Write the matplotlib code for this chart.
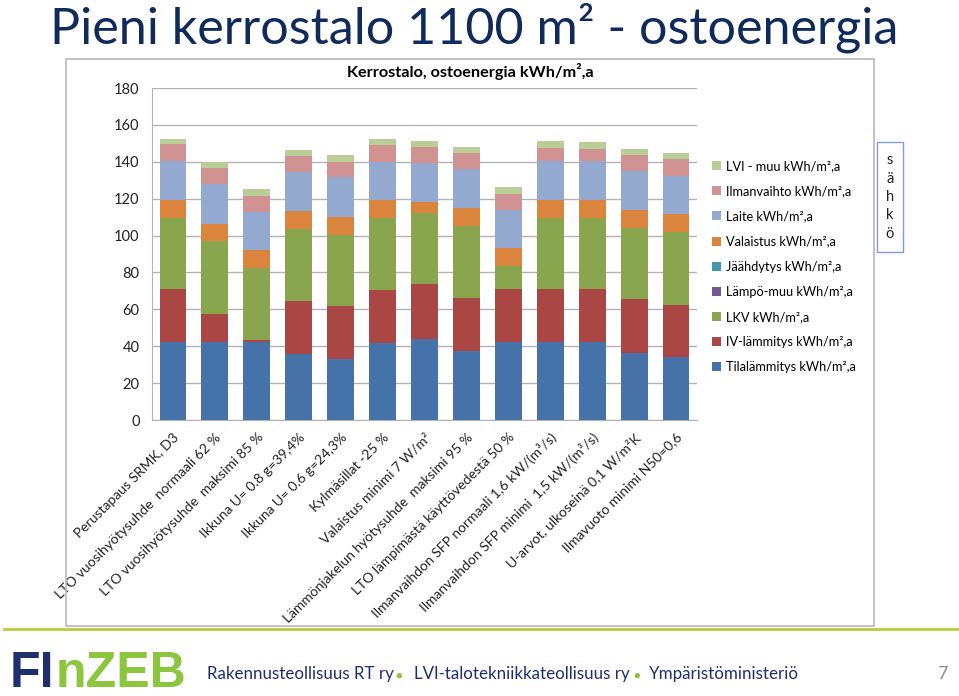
import numpy as np
import matplotlib
matplotlib.use("Agg")
from matplotlib import pyplot as plt
from matplotlib.patches import Rectangle
from matplotlib.lines import Line2D

# --- data (kWh/m2,a) ---
categories = [
    "Perustapaus SRMK, D3",
    "LTO vuosihyötysuhde  normaali 62 %",
    "LTO vuosihyötysuhde  maksimi 85 %",
    "Ikkuna U= 0.8 g=39,4%",
    "Ikkuna U= 0.6 g=24,3%",
    "Kylmäsillat -25 %",
    "Valaistus minimi 7 W/m²",
    "Lämmönjakelun hyötysuhde  maksimi 95 %",
    "LTO lämpimästä käyttövedestä 50 %",
    "Ilmanvaihdon SFP normaali 1,6 kW/(m³/s)",
    "Ilmanvaihdon SFP minimi  1,5 kW/(m³/s)",
    "U-arvot, ulkoseinä 0,1 W/m²K",
    "Ilmavuoto minimi N50=0,6",
]
tilalammitys = [42.2, 42.2, 42.2, 35.9, 33.0, 41.6, 44.1, 37.3, 42.2, 42.2, 42.2, 36.4, 34.0]
iv_lammitys  = [28.6, 15.5, 1.2, 28.4, 28.8, 28.9, 29.4, 29.0, 28.6, 28.6, 28.6, 29.0, 28.5]
lkv          = [38.9, 39.1, 38.8, 39.1, 38.6, 39.0, 38.9, 38.7, 12.8, 38.9, 38.9, 38.9, 39.5]
lampo_muu    = [0] * 13
jaahdytys    = [0] * 13
valaistus    = [9.8, 9.5, 9.7, 9.8, 9.9, 9.8, 5.8, 10.0, 9.7, 9.8, 9.8, 9.7, 9.5]
laite        = [20.9, 21.8, 21.1, 21.0, 21.6, 20.7, 21.4, 20.9, 20.7, 20.9, 20.9, 21.0, 20.8]
ilmanvaihto  = [9.0, 8.3, 8.6, 8.7, 8.1, 9.0, 8.5, 8.8, 8.7, 7.0, 6.3, 8.8, 9.0]
lvi_muu      = [3.2, 3.4, 3.6, 3.4, 3.8, 3.1, 3.4, 3.2, 3.4, 3.6, 3.8, 3.2, 3.2]

series = [
    ("Tilalämmitys kWh/m²,a", tilalammitys, "#4672AA"),
    ("IV-lämmitys kWh/m²,a", iv_lammitys, "#AA4643"),
    ("LKV kWh/m²,a", lkv, "#89A54E"),
    ("Lämpö-muu kWh/m²,a", lampo_muu, "#71588F"),
    ("Jäähdytys kWh/m²,a", jaahdytys, "#4198AF"),
    ("Valaistus kWh/m²,a", valaistus, "#DB843D"),
    ("Laite kWh/m²,a", laite, "#93A9CF"),
    ("Ilmanvaihto kWh/m²,a", ilmanvaihto, "#D19392"),
    ("LVI - muu kWh/m²,a", lvi_muu, "#B9CD96"),
]

W, H = 959, 696
plt.rcParams['font.family'] = ['Lato', 'DejaVu Sans']

fig = plt.figure(figsize=(W / 100, H / 100), dpi=100)


def fx(x):
    return x / W


def fy(y):
    return 1 - y / H


# chart frame
fig.patches.append(Rectangle((fx(66), fy(626)), fx(874) - fx(66), fy(59) - fy(626),
                             transform=fig.transFigure, fill=False,
                             edgecolor="#bdbdbd", lw=1.3))
# green separator line
fig.add_artist(Line2D([fx(4), fx(958)], [fy(629), fy(629)], transform=fig.transFigure,
                      color="#b5cf3a", lw=2))

ax = fig.add_axes([fx(152), fy(420), fx(697) - fx(152), fy(88) - fy(420)])
x = np.arange(len(categories))
bottom = np.zeros(len(categories))
handles = []
for name, vals, col in series:
    b = ax.bar(x, vals, 0.64, bottom=bottom, color=col, label=name, zorder=3)
    bottom += np.array(vals)
    handles.append(b)

ax.set_xlim(-0.5, len(categories) - 0.5)
ax.set_ylim(0, 180)
ax.set_yticks(range(0, 181, 20))
ax.yaxis.grid(True, color="#b3b3b3", lw=1, zorder=0)
for s in ["top", "right"]:
    ax.spines[s].set_visible(False)
ax.spines["left"].set_color("#b3b3b3")
ax.spines["bottom"].set_color("#b3b3b3")
ax.tick_params(axis="both", length=0, labelsize=10.5, colors="#222222")
ax.tick_params(axis="y", pad=9)
ax.set_xticks(x)
ax.set_xticklabels(categories, rotation=45, ha="right", va="top",
                   rotation_mode="anchor", fontsize=10)
ax.tick_params(axis="x", pad=8)

ax.set_title("Kerrostalo, ostoenergia kWh/m²,a", fontsize=11.7, fontweight="bold",
             x=(470 - 152) / (697 - 152), y=1.0, pad=8)

leg = fig.legend(handles[::-1], [s[0] for s in series][::-1],
                 loc="upper left", bbox_to_anchor=(fx(707), fy(155)),
                 frameon=False, fontsize=9.2, handlelength=0.7, handleheight=0.7,
                 handletextpad=0.4, labelspacing=1.03, borderaxespad=0)

# "sähkö" box
fig.patches.append(Rectangle((fx(877), fy(252)), fx(903) - fx(877), fy(142) - fy(252),
                             transform=fig.transFigure, fill=False,
                             edgecolor="#7f9fcf", lw=1))
fig.text(fx(890), fy(197), "s\nä\nh\nk\nö", ha="center", va="center",
         fontsize=10.5, linespacing=1.4, color="#222222")

# main title
fig.text(fx(50), fy(28), "Pieni kerrostalo 1100 m² - ostoenergia", ha="left",
         va="center", fontsize=36.2, color="#0f2b5b")

# footer
fig.text(fx(10), fy(674), "FI", fontfamily="Liberation Sans", fontweight="bold",
         fontsize=36, color="#1f2f6e", va="center", ha="left")
fig.text(fx(56), fy(674), "nZEB", fontfamily="Liberation Sans", fontweight="bold",
         fontsize=36, color="#8cc63f", va="center", ha="left")
navy = "#1f2f6e"
fig.text(fx(207), fy(674), "Rakennusteollisuus RT ry", fontsize=12.2, color=navy, va="center")
fig.text(fx(399), fy(675), "●", fontsize=8, color="#8cc63f", va="center", ha="center")
fig.text(fx(414), fy(674), "LVI-talotekniikkateollisuus ry", fontsize=12.2, color=navy, va="center")
fig.text(fx(637), fy(675), "●", fontsize=8, color="#8cc63f", va="center", ha="center")
fig.text(fx(649), fy(674), "Ympäristöministeriö", fontsize=12.2, color=navy, va="center")
fig.text(fx(943), fy(674), "7", fontsize=13, color="#8c8c8c", va="center", ha="center")

fig.savefig("out.png", dpi=100)
